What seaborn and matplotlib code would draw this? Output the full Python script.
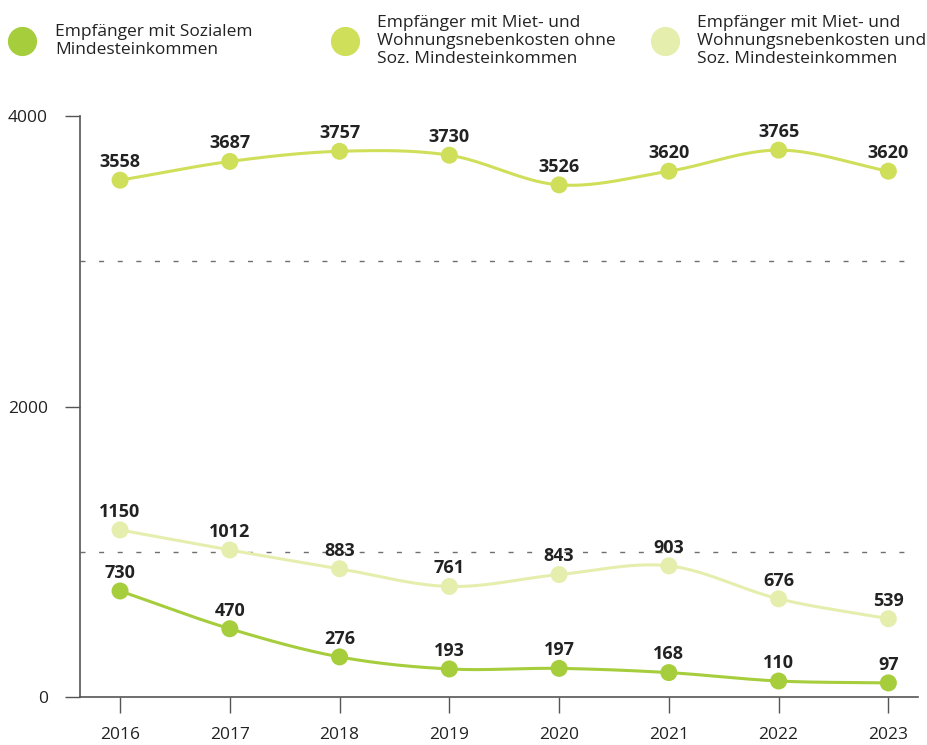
import numpy as np
import pandas as pd
import matplotlib
matplotlib.use("Agg")
import matplotlib.pyplot as plt
from matplotlib.lines import Line2D
import seaborn as sns

# --- data -------------------------------------------------------------
years = [2016, 2017, 2018, 2019, 2020, 2021, 2022, 2023]
sozial = [730, 470, 276, 193, 197, 168, 110, 97]
miete_ohne = [3558, 3687, 3757, 3730, 3526, 3620, 3765, 3620]
miete_und = [1150, 1012, 883, 761, 843, 903, 676, 539]

series_names = [
    "Empfänger mit Sozialem\nMindesteinkommen",
    "Empfänger mit Miet- und\nWohnungsnebenkosten ohne\nSoz. Mindesteinkommen",
    "Empfänger mit Miet- und\nWohnungsnebenkosten und\nSoz. Mindesteinkommen",
]
series_values = [sozial, miete_ohne, miete_und]
colors = ["#a6cd3b", "#cfdf5a", "#e6eeae"]

y_ticks = [0, 2000, 4000]
grid_levels = [1000, 3000]

# --- style ------------------------------------------------------------
sns.set_theme(style="white")
plt.rcParams["font.family"] = ["Open Sans", "DejaVu Sans"]
text_color = "#222222"
axis_color = "#555555"

fig = plt.figure(figsize=(9.28, 7.45), dpi=100)
ax = fig.add_axes([80 / 928, 48 / 745, 838 / 928, 581 / 745])

df = pd.DataFrame({
    "Jahr": np.tile(years, 3),
    "Wert": np.concatenate(series_values),
    "Reihe": np.repeat(series_names, len(years)),
})


def catmull_rom(x, y, n=40):
    """Smooth curve through the points using Catmull-Rom tangents."""
    x = np.asarray(x, float)
    y = np.asarray(y, float)
    m = np.zeros_like(y)
    m[1:-1] = (y[2:] - y[:-2]) / (x[2:] - x[:-2])
    m[0] = (y[1] - y[0]) / (x[1] - x[0])
    m[-1] = (y[-1] - y[-2]) / (x[-1] - x[-2])
    xs, ys = [], []
    for i in range(len(x) - 1):
        h = x[i + 1] - x[i]
        t = np.linspace(0, 1, n, endpoint=(i == len(x) - 2))
        h00 = 2 * t**3 - 3 * t**2 + 1
        h10 = t**3 - 2 * t**2 + t
        h01 = -2 * t**3 + 3 * t**2
        h11 = t**3 - t**2
        xs.append(x[i] + t * h)
        ys.append(h00 * y[i] + h10 * h * m[i] + h01 * y[i + 1] + h11 * h * m[i + 1])
    return np.concatenate(xs), np.concatenate(ys)


# smooth connecting lines
for name, vals, col in zip(series_names, series_values, colors):
    cx, cy = catmull_rom(years, vals)
    ax.plot(cx, cy, color=col, lw=2.2, zorder=2, solid_capstyle="round")

# markers
sns.scatterplot(data=df, x="Jahr", y="Wert", hue="Reihe", palette=colors,
                hue_order=series_names, s=150, linewidth=0, legend=False,
                zorder=3, ax=ax)

# value labels
for vals in series_values:
    for x, v in zip(years, vals):
        ax.annotate(f"{v}", (x, v), xytext=(0, 9.5), textcoords="offset points",
                    ha="center", va="baseline", fontsize=13, fontweight="bold",
                    color=text_color, zorder=4, annotation_clip=False)

# axes
ax.set_xlim(2015.635, 2023.27)
ax.set_ylim(0, 4000)
ax.set_xticks(years)
ax.set_xticklabels([str(y) for y in years])
ax.set_yticks(y_ticks)
ax.set_yticklabels([str(t) for t in y_ticks])
ax.set_yticks(grid_levels, minor=True)
ax.grid(False)
ax.grid(which="minor", axis="y", color="#6f6f6f", lw=1.0,
        linestyle=(0, (3.6, 9.8)))
ax.tick_params(axis="y", which="minor", length=0)
ax.set_xlabel("")
ax.set_ylabel("")

for side in ["top", "right"]:
    ax.spines[side].set_visible(False)
for side in ["left", "bottom"]:
    ax.spines[side].set_color(axis_color)
    ax.spines[side].set_linewidth(1.2)

ax.tick_params(axis="both", which="major", direction="out", color=axis_color,
               width=1.0, labelsize=12.5, labelcolor=text_color)
ax.tick_params(axis="x", which="major", length=11.5, pad=10, bottom=True)
ax.tick_params(axis="y", which="major", length=11, pad=12, left=True)

# legend across the top
legend_items = [(22, 55), (345, 377), (665, 697)]
for (mx, tx), name, col in zip(legend_items, series_names, colors):
    fig.add_artist(Line2D([mx / 928], [1 - 41 / 745], transform=fig.transFigure,
                          marker="o", markersize=20, color=col, linestyle="none"))
    fig.text(tx / 928, 1 - 41 / 745, name, ha="left", va="center",
             fontsize=12.5, color=text_color, linespacing=1.2)

fig.savefig("out.png", dpi=100)
